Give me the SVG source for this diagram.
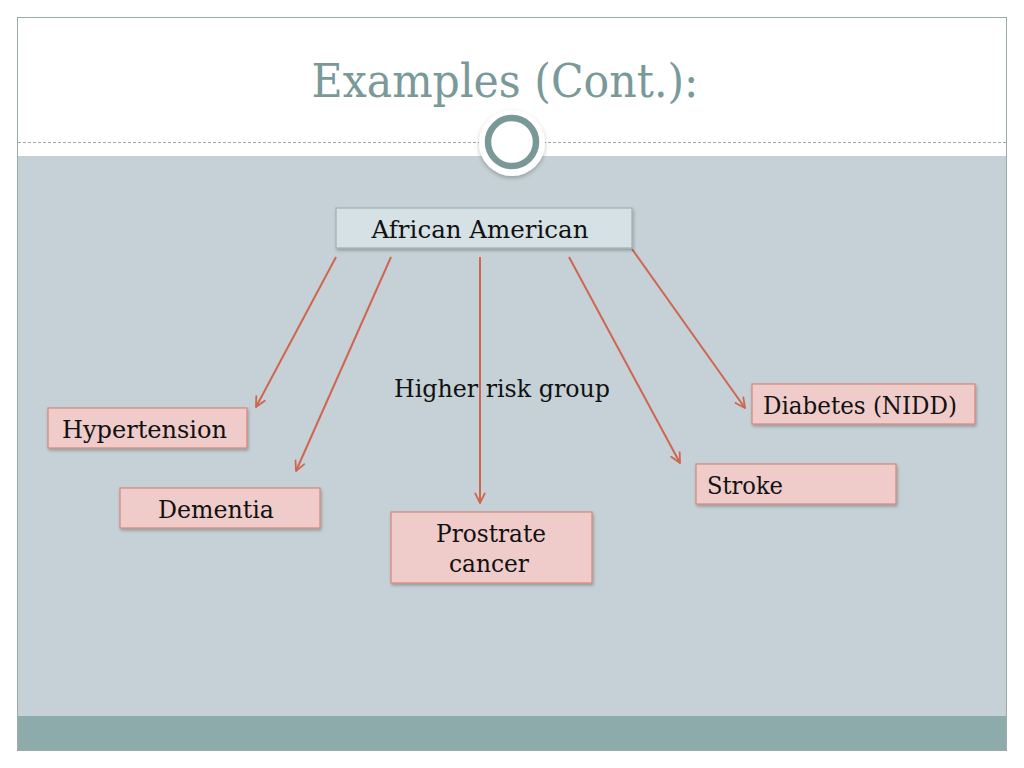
<svg xmlns="http://www.w3.org/2000/svg" width="1024" height="768" viewBox="0 0 1024 768">
<style>
.node rect{fill:#efcbca;stroke:#d4867b;stroke-width:1.2}
.node text,.lbl{font-family:"DejaVu Serif","Liberation Serif",serif;font-size:24px;fill:#111}
.conn line{stroke:#cf6650;stroke-width:2;marker-end:url(#ah)}
</style>
<defs>
<marker id="ah" viewBox="0 0 10 10" refX="9" refY="5" markerWidth="6" markerHeight="6" orient="auto" markerUnits="strokeWidth"><path d="M1,1 L9,5 L1,9" fill="none" stroke="#cf6650" stroke-width="1.5" stroke-linecap="round" stroke-linejoin="round"/></marker>
<filter id="sh" x="-20%" y="-20%" width="140%" height="160%"><feDropShadow dx="1" dy="2" stdDeviation="1.5" flood-color="#000" flood-opacity="0.25"/></filter>
<filter id="sh2" x="-30%" y="-30%" width="160%" height="160%"><feDropShadow dx="0" dy="2" stdDeviation="2" flood-color="#000" flood-opacity="0.25"/></filter>
</defs>
<rect width="1024" height="768" fill="#fff"/>
<rect x="17.5" y="17.5" width="989" height="733" fill="#fff" stroke="#9aabab" stroke-width="1"/>
<rect x="18" y="156" width="988" height="560" fill="#c5d1d6"/>
<rect x="18" y="716" width="988" height="34" fill="#8eabab"/>
<line x1="18" y1="142.5" x2="1006" y2="142.5" stroke="#9aabab" stroke-width="1" stroke-dasharray="3,2"/>
<text x="505" y="97" text-anchor="middle" font-family="DejaVu Serif,'Liberation Serif',serif" font-size="47" fill="#7a9a9a" textLength="387" lengthAdjust="spacingAndGlyphs">Examples (Cont.):</text>
<circle cx="512" cy="143" r="33" fill="#fff" filter="url(#sh2)"/>
<circle cx="512" cy="142" r="24" fill="#fff" stroke="#7a9898" stroke-width="6.5"/>
<g class="conn">
<line x1="336" y1="257" x2="256" y2="407"/>
<line x1="391" y1="257" x2="296" y2="471"/>
<line x1="480" y1="257" x2="480" y2="503"/>
<line x1="569" y1="257" x2="680" y2="463"/>
<line x1="632" y1="249" x2="745" y2="408"/>
</g>
<text class="lbl" x="394" y="397" textLength="216" lengthAdjust="spacingAndGlyphs">Higher risk group</text>
<g id="african-american" class="node"><rect x="336" y="208" width="296" height="40" style="fill:#d5e1e4;stroke:#9fb1b3" filter="url(#sh)"/><text x="480" y="238" text-anchor="middle" textLength="217" lengthAdjust="spacingAndGlyphs">African American</text></g>
<g id="hypertension" class="node"><rect x="48" y="408" width="199" height="40" filter="url(#sh)"/><text x="62" y="438" textLength="165" lengthAdjust="spacingAndGlyphs">Hypertension</text></g>
<g id="dementia" class="node"><rect x="120" y="488" width="200" height="40" filter="url(#sh)"/><text x="216" y="518" text-anchor="middle" textLength="116" lengthAdjust="spacingAndGlyphs">Dementia</text></g>
<g id="prostrate-cancer" class="node"><rect x="391" y="512" width="201" height="71" filter="url(#sh)"/><text x="491" y="542" text-anchor="middle" textLength="110" lengthAdjust="spacingAndGlyphs">Prostrate</text><text x="489" y="572" text-anchor="middle" textLength="80" lengthAdjust="spacingAndGlyphs">cancer</text></g>
<g id="stroke" class="node"><rect x="696" y="464" width="200" height="40" filter="url(#sh)"/><text x="707" y="494" textLength="76" lengthAdjust="spacingAndGlyphs">Stroke</text></g>
<g id="diabetes" class="node"><rect x="752" y="384" width="223" height="40" filter="url(#sh)"/><text x="763" y="414" textLength="194" lengthAdjust="spacingAndGlyphs">Diabetes (NIDD)</text></g>
</svg>
